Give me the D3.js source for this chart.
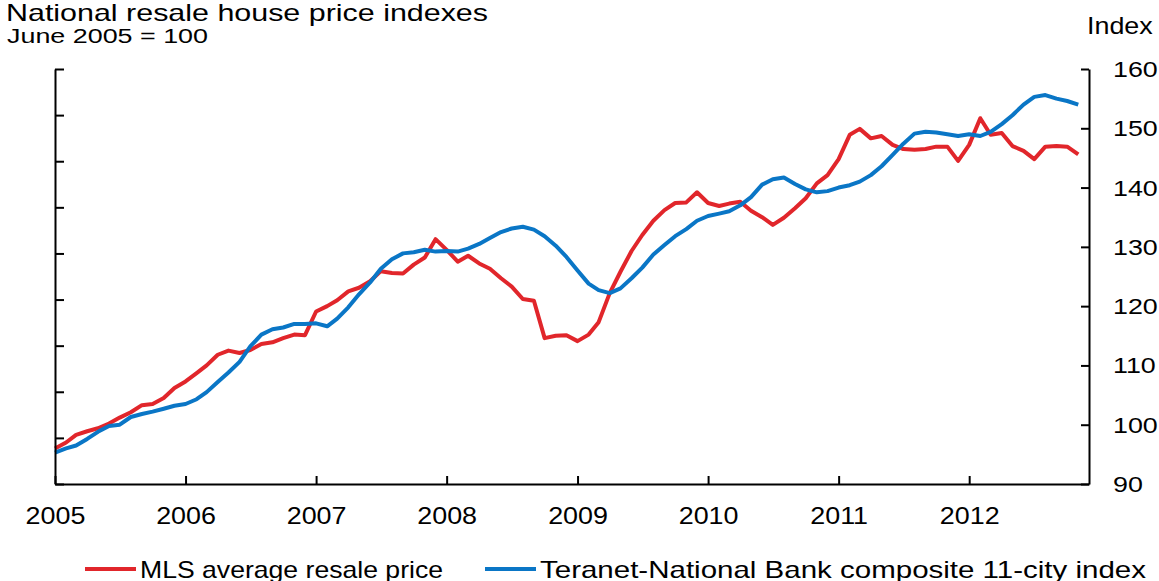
<!DOCTYPE html>
<html>
<head>
<meta charset="utf-8">
<script src="https://cdn.jsdelivr.net/npm/d3@7"></script>
<style>
  body { margin: 0; background: #fff; }
  svg { display: block; }
  text { font-family: "Liberation Sans", Arial, sans-serif; fill: #000; }
</style>
</head>
<body>
<svg id="chart" width="1159" height="581"></svg>
<script>
// monthly values, Jan 2005 .. Nov 2012 (June 2005 = 100)
const mls = [
  96.0, 97.0, 98.3, 98.9, 99.4, 100.2, 101.2, 102.1, 103.3, 103.5, 104.5, 106.2,
  107.3, 108.7, 110.0, 111.8, 112.5, 112.1, 112.6, 113.6, 113.9, 114.6, 115.2, 115.1,
  119.1, 120.0, 121.0, 122.5, 123.1, 124.2, 125.9, 125.6, 125.5, 127.0, 128.2, 131.3,
  129.5, 127.5, 128.5, 127.2, 126.3, 124.7, 123.3, 121.2, 120.9, 114.6, 115.0, 115.1,
  114.1, 115.2, 117.3, 122.2, 125.8, 129.3, 132.0, 134.4, 136.2, 137.4, 137.5, 139.2,
  137.4, 136.9, 137.3, 137.6, 136.1, 135.0, 133.7, 134.9, 136.5, 138.2, 140.7, 142.1,
  144.8, 148.9, 149.9, 148.3, 148.7, 147.2, 146.5, 146.4, 146.5, 146.9, 146.9, 144.5,
  147.2, 151.7, 148.9, 149.2, 147.0, 146.2, 144.8, 146.9, 147.0, 146.9, 145.6
];
const teranet = [
  95.3, 96.0, 96.5, 97.6, 98.8, 99.8, 100.0, 101.3, 101.8, 102.2, 102.7, 103.2,
  103.5, 104.3, 105.5, 107.2, 108.8, 110.6, 113.2, 115.2, 116.1, 116.4, 117.0, 117.0,
  117.1, 116.6, 117.9, 119.8, 122.0, 124.0, 126.3, 127.9, 128.9, 129.1, 129.5, 129.2,
  129.3, 129.2, 129.7, 130.5, 131.5, 132.5, 133.1, 133.4, 132.9, 131.8, 130.2, 128.3,
  126.0, 123.8, 122.7, 122.2, 123.0, 124.7, 126.5, 128.7, 130.3, 131.8, 133.0, 134.4,
  135.2, 135.6, 136.0, 137.0, 138.4, 140.5, 141.4, 141.7, 140.6, 139.7, 139.2, 139.4,
  140.0, 140.4, 141.0, 142.1, 143.6, 145.5, 147.4, 149.1, 149.4, 149.3, 149.0, 148.7,
  149.0, 148.7, 149.4, 150.7, 152.2, 154.0, 155.3, 155.6, 155.0, 154.6, 154.0
];
const years = [2005, 2006, 2007, 2008, 2009, 2010, 2011, 2012];
const yTicks = [90, 100, 110, 120, 130, 140, 150, 160];
const seriesNames = ["MLS average resale price", "Teranet-National Bank composite 11-city index"];
const seriesColors = ["#e1262b", "#0a76c6"];

const svg = d3.select("#chart");
const plotLeft = 55, plotRight = 1089, plotTop = 69, plotBottom = 484;

// glyphs in the original are wider than they are tall
function stretch(sel, sx) {
  sel.each(function () {
    this.setAttribute("textLength", this.getComputedTextLength() * sx);
    this.setAttribute("lengthAdjust", "spacingAndGlyphs");
  });
}
function fitWidth(sel, w) {
  sel.attr("textLength", w).attr("lengthAdjust", "spacingAndGlyphs");
}

const x = d3.scaleTime()
  .domain([new Date(2005, 0, 1), new Date(2012, 11, 1)])
  .range([plotLeft, plotRight]);
const y = d3.scaleLinear().domain([90, 160]).range([plotBottom, plotTop]);
const yLeft = d3.scaleLinear().domain([0, 9]).range([plotBottom, plotTop]);

const line = d3.line()
  .x((d, i) => x(new Date(2005, i, 1)))
  .y(d => y(d));

[mls, teranet].forEach((s, k) => {
  svg.append("path")
    .datum(s)
    .attr("fill", "none")
    .attr("stroke", seriesColors[k])
    .attr("stroke-width", 4)
    .attr("stroke-linejoin", "round")
    .attr("d", line);
});

// left axis: ticks only
const gl = svg.append("g")
  .attr("transform", `translate(${plotLeft},0)`)
  .call(d3.axisLeft(yLeft).ticks(9).tickSize(-9).tickSizeOuter(0).tickFormat(""));

// right axis
const gr = svg.append("g")
  .attr("transform", `translate(${plotRight},0)`)
  .call(d3.axisRight(y).tickValues(yTicks).tickSize(-8).tickSizeOuter(0).tickPadding(24));

// bottom axis
const gb = svg.append("g")
  .attr("transform", `translate(0,${plotBottom})`)
  .call(d3.axisBottom(x)
    .tickValues(years.map(yr => new Date(yr, 0, 1)))
    .tickFormat(d3.timeFormat("%Y"))
    .tickSize(-8).tickSizeOuter(0).tickPadding(23));

svg.selectAll("g").attr("font-family", null).attr("font-size", null);
svg.selectAll(".domain, .tick line")
  .attr("stroke", "#000")
  .attr("stroke-width", 2);

gr.selectAll("text").attr("font-size", 22).attr("dy", "0.34em");
stretch(gr.selectAll("text"), 1.22);
gb.selectAll("text").attr("font-size", 24);
stretch(gb.selectAll("text"), 1.12);

// titles
const t1 = svg.append("text").attr("x", 6).attr("y", 21).attr("font-size", 24)
  .text("National resale house price indexes");
fitWidth(t1, 482);
const t2 = svg.append("text").attr("x", 7).attr("y", 43).attr("font-size", 20)
  .text("June 2005 = 100");
fitWidth(t2, 201);
const t3 = svg.append("text").attr("x", 1087).attr("y", 34).attr("font-size", 24)
  .text("Index");
stretch(t3, 1.12);

// legend
const legendX = [85, 485];
const legendW = [303, 606];
seriesNames.forEach((name, k) => {
  svg.append("line")
    .attr("x1", legendX[k]).attr("x2", legendX[k] + 51)
    .attr("y1", 569).attr("y2", 569)
    .attr("stroke", seriesColors[k]).attr("stroke-width", 4);
  const t = svg.append("text")
    .attr("x", legendX[k] + 55).attr("y", 578)
    .attr("font-size", 24)
    .text(name);
  fitWidth(t, legendW[k]);
});
</script>
</body>
</html>
